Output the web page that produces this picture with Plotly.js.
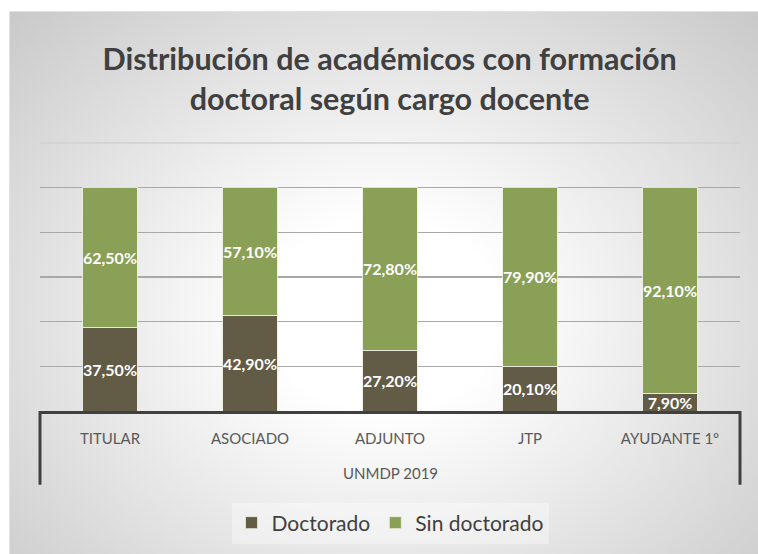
<!DOCTYPE html>
<html>
<head>
<meta charset="utf-8">
<script src="https://cdn.plot.ly/plotly-3.0.1.min.js"></script>
<style>
  html, body { margin: 0; padding: 0; background: #ffffff; }
  #wrap { position: relative; width: 758px; height: 554px; background: #ffffff; overflow: hidden; }
  #bg { position: absolute; left: 9px; top: 11px; width: 749px; height: 543px;
        border-top: 1px solid #e2e2e2; border-left: 1px solid #e2e2e2; box-sizing: border-box;
        background: radial-gradient(ellipse farthest-corner at 50% 56%, #ffffff 0%, #ffffff 22%, #c9c9c9 100%); }
  #chart { position: absolute; left: 0; top: 0; width: 758px; height: 554px; }
</style>
</head>
<body>
<div id="wrap">
  <div id="bg"></div>
  <div id="chart"></div>
</div>
<script>
// ---- data ----
const groupLabel = "UNMDP 2019";
const categories = ["TITULAR", "ASOCIADO", "ADJUNTO", "JTP", "AYUDANTE 1º"];
const doctorado = [37.5, 42.9, 27.2, 20.1, 7.9];
const sinDoctorado = [62.5, 57.1, 72.8, 79.9, 92.1];
const seriesNames = ["Doctorado", "Sin doctorado"];

const fmt = v => v.toFixed(2).replace('.', ',') + '%';
const FONT = "Lato, 'Open Sans', sans-serif";

const labelFont = { family: FONT, size: 16, color: "#ffffff", weight: "bold" };

const common = {
  type: "bar",
  x: categories,
  width: 0.39,
  textposition: "inside",
  insidetextanchor: "middle",
  textangle: 0,
  constraintext: "none",
  textfont: labelFont,
  hoverinfo: "skip",
  cliponaxis: false
};

const traces = [
  Object.assign({}, common, {
    name: seriesNames[0],
    y: doctorado,
    text: doctorado.map(fmt),
    marker: { color: "#625c46", line: { color: "rgba(235,235,225,0.8)", width: 1 } }
  }),
  Object.assign({}, common, {
    name: seriesNames[1],
    y: sinDoctorado,
    text: sinDoctorado.map(fmt),
    marker: { color: "#8aa057", line: { color: "rgba(235,240,225,0.8)", width: 1 } }
  })
];

// plot area: y 143 (top) .. 412 (bottom) => 269 px tall
const plotH = 269;
const pxBelow = px => -(px - 412) / plotH;

const layout = {
  width: 758,
  height: 554,
  paper_bgcolor: "rgba(0,0,0,0)",
  plot_bgcolor: "rgba(0,0,0,0)",
  margin: { l: 40, r: 18, t: 143, b: 142, pad: 0 },
  barmode: "stack",
  title: {
    text: "Distribución de académicos con formación<br>doctoral según cargo docente",
    font: { family: FONT, size: 30.5, color: "#404040", weight: "bold" },
    x: 0.514, xanchor: "center",
    y: 0.873, yanchor: "middle"
  },
  showlegend: true,
  legend: {
    orientation: "h",
    x: 0.5, xanchor: "center",
    y: pxBelow(523), yanchor: "middle",
    font: { family: FONT, size: 21, color: "#404040" },
    bgcolor: "rgba(255,255,255,0.35)",
    traceorder: "normal",
    itemwidth: 30
  },
  xaxis: {
    type: "category",
    showline: true,
    linecolor: "#404040",
    linewidth: 3,
    showgrid: false,
    ticks: "",
    ticklabelstandoff: 12,
    tickfont: { family: FONT, size: 15, color: "#595959" },
    fixedrange: true
  },
  yaxis: {
    range: [0, 120],
    dtick: 20,
    showticklabels: false,
    showgrid: true,
    gridcolor: "#a8a8a8",
    gridwidth: 1.3,
    zeroline: false,
    showline: false,
    fixedrange: true
  },
  annotations: [{
    text: groupLabel,
    xref: "paper", yref: "paper",
    x: 0.5, y: pxBelow(474),
    xanchor: "center", yanchor: "middle",
    showarrow: false,
    font: { family: FONT, size: 15, color: "#595959" }
  }],
  shapes: [
    { type: "line", xref: "paper", yref: "paper", x0: 0, x1: 1, y0: 1, y1: 1,
      line: { color: "#d0d0d0", width: 1.3 }, layer: "below" },
    { type: "line", xref: "paper", yref: "paper", x0: 0, x1: 0, y0: 0, y1: pxBelow(486),
      line: { color: "#404040", width: 3 } },
    { type: "line", xref: "paper", yref: "paper", x0: 1, x1: 1, y0: 0, y1: pxBelow(486),
      line: { color: "#404040", width: 3 } }
  ]
};

Plotly.newPlot("chart", traces, layout, { staticPlot: true, displayModeBar: false });
</script>
</body>
</html>
